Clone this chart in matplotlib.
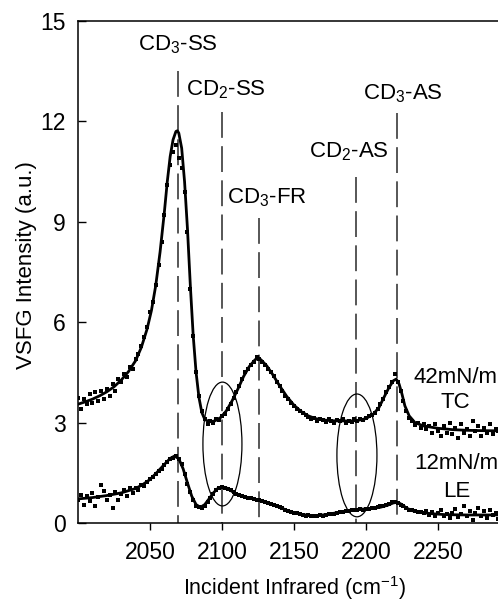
import numpy as np
import matplotlib
matplotlib.use('Agg')
import matplotlib.pyplot as plt
from matplotlib.patches import Ellipse


plt.rcParams['font.family'] = ['Liberation Sans', 'DejaVu Sans']
plt.rcParams['mathtext.fontset'] = 'custom'
plt.rcParams['mathtext.rm'] = 'Liberation Sans'
plt.rcParams['mathtext.it'] = 'Liberation Sans:italic'
plt.rcParams['font.size'] = 16

# measured points, every 2 cm-1 from 2000 to 2298 (10 per row)
dot_x = np.arange(2000, 2300, 2)

tc_dots = [
    3.75, 3.40, 3.70, 3.55, 3.85, 3.60, 3.90, 3.65, 3.95, 3.70,
    4.00, 3.80, 4.15, 3.95, 4.30, 4.20, 4.45, 4.35, 4.65, 4.60,
    4.90, 5.05, 5.30, 5.55, 5.85, 6.30, 6.60, 7.10, 7.70, 8.40,
    9.20, 10.10, 10.70, 11.10, 11.30, 10.90, 10.60, 9.90, 8.70, 7.00,
    5.60, 4.50, 3.80, 3.35, 3.10, 2.95, 3.05, 2.98, 3.10, 3.08,
    3.20, 3.25, 3.40, 3.55, 3.75, 3.90, 4.10, 4.30, 4.50, 4.60,
    4.72, 4.80, 4.95, 4.90, 4.80, 4.72, 4.60, 4.50, 4.38, 4.20,
    4.10, 3.95, 3.80, 3.70, 3.60, 3.50, 3.42, 3.35, 3.30, 3.22,
    3.18, 3.12, 3.15, 3.05, 3.10, 3.08, 3.02, 3.10, 3.05, 3.00,
    3.08, 3.04, 3.10, 3.00, 3.06, 3.02, 3.10, 3.05, 3.12, 3.08,
    3.15, 3.20, 3.22, 3.30, 3.42, 3.55, 3.72, 3.90, 4.05, 4.20,
    4.45, 4.20, 3.95, 3.65, 3.35, 3.15, 3.05, 2.92, 3.00, 2.85,
    2.95, 2.80, 2.90, 2.70, 2.95, 2.75, 2.60, 2.90, 2.70, 3.00,
    2.65, 2.85, 2.55, 2.95, 2.70, 2.80, 2.60, 3.05, 2.75, 2.90,
    2.60, 2.85, 2.70, 2.95, 2.65, 2.80, 2.75, 2.90, 2.70, 2.85,
]

le_dots = [
    0.70, 0.85, 0.55, 0.80, 0.65, 0.90, 0.50, 0.78, 1.15, 0.95,
    0.68, 0.85, 0.45, 0.92, 0.70, 0.88, 1.00, 0.82, 1.05, 0.90,
    1.05, 1.00, 1.15, 1.12, 1.22, 1.30, 1.38, 1.45, 1.55, 1.60,
    1.72, 1.82, 1.90, 1.95, 2.00, 1.90, 1.75, 1.45, 1.18, 0.92,
    0.68, 0.52, 0.48, 0.45, 0.52, 0.62, 0.75, 0.88, 0.98, 1.05,
    1.08, 1.06, 1.02, 0.98, 0.92, 0.88, 0.84, 0.80, 0.78, 0.76,
    0.74, 0.72, 0.70, 0.68, 0.66, 0.62, 0.60, 0.58, 0.55, 0.52,
    0.48, 0.44, 0.40, 0.36, 0.34, 0.30, 0.29, 0.26, 0.24, 0.22,
    0.23, 0.20, 0.22, 0.21, 0.24, 0.22, 0.25, 0.26, 0.28, 0.27,
    0.30, 0.32, 0.33, 0.35, 0.36, 0.38, 0.40, 0.39, 0.42, 0.40,
    0.42, 0.43, 0.45, 0.44, 0.47, 0.50, 0.52, 0.55, 0.58, 0.62,
    0.63, 0.60, 0.55, 0.50, 0.45, 0.40, 0.38, 0.35, 0.33, 0.32,
    0.30, 0.35, 0.25, 0.32, 0.20, 0.30, 0.38, 0.22, 0.28, 0.15,
    0.30, 0.42, 0.18, 0.28, 0.50, 0.20, 0.35, 0.10, 0.30, 0.45,
    0.22, 0.35, 0.15, 0.40, 0.25, 0.30, 0.12, 0.35, 0.28, 0.20,
]

# fitted curves
tc_fit_x = [2000, 2005, 2010, 2015, 2020, 2025, 2030, 2035, 2040, 2044,
            2048, 2051, 2054, 2057, 2060, 2062, 2064, 2066, 2068, 2069,
            2070, 2072, 2074, 2076, 2078, 2080, 2082, 2084, 2086, 2088,
            2091, 2095, 2099, 2103, 2107, 2111, 2115, 2119, 2123, 2125,
            2127, 2131, 2135, 2140, 2145, 2150, 2155, 2160, 2165, 2170,
            2175, 2180, 2185, 2190, 2195, 2200, 2205, 2209, 2213, 2216,
            2219, 2221, 2223, 2225, 2227, 2230, 2234, 2240, 2250, 2260,
            2270, 2280, 2300]
tc_fit_y = [3.55, 3.62, 3.70, 3.80, 3.92, 4.07, 4.27, 4.52, 4.85, 5.25,
            5.80, 6.35, 7.10, 8.10, 9.30, 10.20, 10.95, 11.45, 11.70, 11.72,
            11.65, 11.20, 10.20, 8.80, 7.10, 5.60, 4.50, 3.75, 3.30, 3.10,
            3.02, 3.05, 3.15, 3.35, 3.65, 4.00, 4.38, 4.68, 4.88, 4.92,
            4.88, 4.70, 4.45, 4.10, 3.78, 3.52, 3.33, 3.20, 3.12, 3.08,
            3.06, 3.05, 3.05, 3.05, 3.07, 3.12, 3.25, 3.45, 3.80, 4.05,
            4.25, 4.30, 4.15, 3.85, 3.50, 3.20, 3.00, 2.90, 2.83, 2.79,
            2.77, 2.76, 2.75]

le_fit_x = [2000, 2010, 2020, 2030, 2040, 2045, 2050, 2055, 2060, 2064,
            2067, 2070, 2073, 2076, 2079, 2082, 2085, 2088, 2091, 2094,
            2097, 2100, 2103, 2106, 2110, 2115, 2120, 2125, 2130, 2135,
            2140, 2145, 2150, 2155, 2160, 2165, 2170, 2175, 2180, 2185,
            2190, 2195, 2200, 2205, 2210, 2215, 2219, 2222, 2225, 2228,
            2232, 2238, 2245, 2255, 2270, 2300]
le_fit_y = [0.72, 0.76, 0.82, 0.90, 1.03, 1.15, 1.30, 1.52, 1.75, 1.93,
            2.00, 1.92, 1.62, 1.20, 0.80, 0.55, 0.47, 0.55, 0.72, 0.90,
            1.03, 1.08, 1.05, 0.97, 0.86, 0.79, 0.74, 0.68, 0.62, 0.55,
            0.47, 0.38, 0.31, 0.26, 0.23, 0.22, 0.24, 0.27, 0.31, 0.35,
            0.39, 0.41, 0.42, 0.44, 0.47, 0.53, 0.60, 0.62, 0.55, 0.45,
            0.37, 0.32, 0.28, 0.25, 0.24, 0.24]

# band assignments
band_labels = ['CD$_3$-SS', 'CD$_2$-SS', 'CD$_3$-FR', 'CD$_2$-AS', 'CD$_3$-AS']
band_pos = [2069.4, 2100, 2125.7, 2192.8, 2221.3]
band_top = [13.5, 12.28, 9.11, 10.34, 12.25]
label_x = [2069.1, 2102.8, 2131.3, 2188.2, 2225.3]
label_y = [14.13, 12.79, 9.56, 10.91, 12.67]

# circled regions
ell_x = [2100.3, 2193.7]
ell_y = [2.36, 2.02]
ell_w = [27.1, 27.8]
ell_h = [3.70, 3.67]

fig = plt.figure(figsize=(4.98, 6.02), dpi=100)
ax = fig.add_axes([78 / 498, 79 / 602, 432 / 498, 502 / 602])

for x, top in zip(band_pos, band_top):
    ax.plot([x, x], [top, 0], color='#3a3a3a', lw=1.2, dashes=(15.5, 5), zorder=1)

for x, y, s in zip(label_x, label_y, band_labels):
    ax.text(x, y, s, ha='center', va='baseline')

for x, y, w, h in zip(ell_x, ell_y, ell_w, ell_h):
    ax.add_patch(Ellipse((x, y), w, h, fill=False, ec='black', lw=0.9, zorder=2))

ax.plot(dot_x, tc_dots, 's', color='black', ms=3.2, mew=0, zorder=3)
ax.plot(dot_x, le_dots, 's', color='black', ms=3.2, mew=0, zorder=3)
ax.plot(tc_fit_x, tc_fit_y, color='black', lw=2, zorder=4)
ax.plot(le_fit_x, le_fit_y, color='black', lw=2, zorder=4)

ax.text(2262, 4.18, '42mN/m', ha='center', va='baseline')
ax.text(2262, 3.44, 'TC', ha='center', va='baseline')
ax.text(2263, 1.61, '12mN/m', ha='center', va='baseline')
ax.text(2263, 0.78, 'LE', ha='center', va='baseline')

ax.set_xlim(2000, 2300)
ax.set_ylim(0, 15)
ax.set_xticks([2050, 2100, 2150, 2200, 2250])
ax.set_yticks([0, 3, 6, 9, 12, 15])
ax.tick_params(axis='x', direction='out', length=5, width=1, pad=8, labelsize=16.5)
ax.tick_params(axis='y', direction='in', length=6, width=1, pad=9, labelsize=16.5)
for sp in ax.spines.values():
    sp.set_linewidth(1.1)

ax.set_xlabel('Incident Infrared (cm$^{-1}$)', fontsize=15.5)
ax.set_ylabel('VSFG Intensity (a.u.)')
ax.xaxis.set_label_coords(0.5, -0.102)
ax.yaxis.set_label_coords(-0.095, 0.514)

fig.savefig('out.png', dpi=100)
